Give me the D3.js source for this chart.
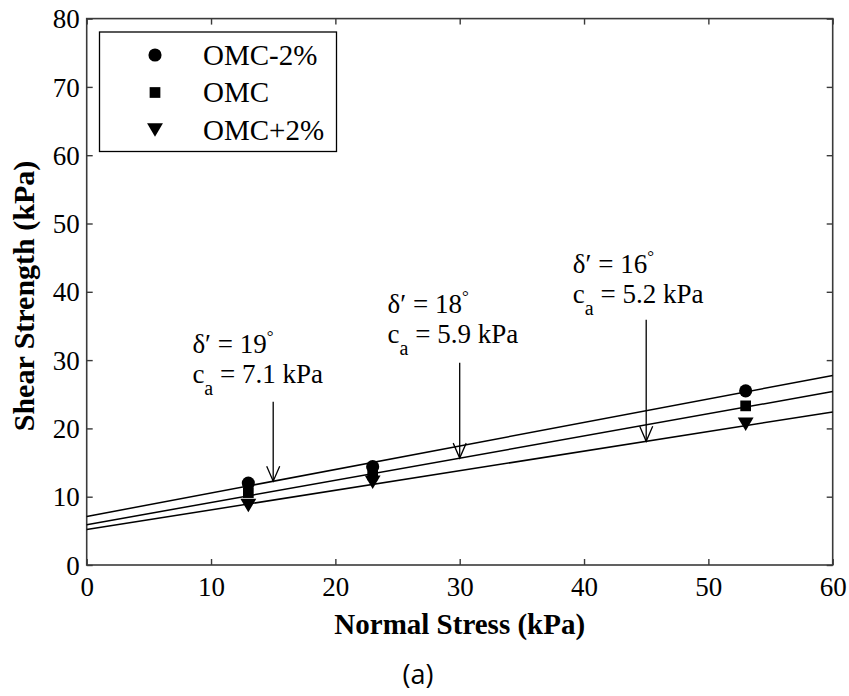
<!DOCTYPE html>
<html>
<head>
<meta charset="utf-8">
<script src="https://cdn.jsdelivr.net/npm/d3@7"></script>
<style>
  html, body { margin: 0; padding: 0; background: #fff; }
  svg { display: block; }
  text { font-family: "Liberation Serif", "Times New Roman", serif; fill: #000; }
</style>
</head>
<body>
<svg id="chart" width="849" height="696"></svg>
<script>
// Measured shear strength at each normal stress, per moisture condition
const normalStress = [13, 23, 53];
const seriesNames = ["OMC-2%", "OMC", "OMC+2%"];
const shearOmcMinus2 = [12.0, 14.4, 25.5];
const shearOmc = [10.6, 13.2, 23.3];
const shearOmcPlus2 = [8.7, 12.1, 20.6];

// Fitted interface parameters (friction angle in degrees, adhesion in kPa)
const frictionAngle = [19, 18, 16];
const adhesion = [7.1, 5.9, 5.2];

// Annotation arrows: normal stress where each arrow meets its fit line
const arrowStress = [15, 30, 45];

const xTicks = [0, 10, 20, 30, 40, 50, 60];
const yTicks = [0, 10, 20, 30, 40, 50, 60, 70, 80];

const svg = d3.select("#chart");
const x = d3.scaleLinear().domain([0, 60]).range([86.7, 832.7]);
const y = d3.scaleLinear().domain([0, 80]).range([565, 18.6]);

const axisColor = "#3a3a3a";
const tickLen = 6;

// Frame with inward ticks on all four sides
svg.append("rect")
  .attr("x", x(0)).attr("y", y(80))
  .attr("width", x(60) - x(0)).attr("height", y(0) - y(80))
  .attr("fill", "none").attr("stroke", axisColor).attr("stroke-width", 1.6);

const xAxis = svg.append("g").attr("transform", `translate(0,${y(0)})`)
  .call(d3.axisBottom(x).tickValues(xTicks).tickSize(-tickLen).tickPadding(14).tickFormat(d3.format("d")));
const xAxisTop = svg.append("g").attr("transform", `translate(0,${y(80)})`)
  .call(d3.axisTop(x).tickValues(xTicks).tickSize(-tickLen).tickFormat(""));
const yAxis = svg.append("g").attr("transform", `translate(${x(0)},0)`)
  .call(d3.axisLeft(y).tickValues(yTicks).tickSize(-tickLen).tickPadding(7).tickFormat(d3.format("d")));
const yAxisRight = svg.append("g").attr("transform", `translate(${x(60)},0)`)
  .call(d3.axisRight(y).tickValues(yTicks).tickSize(-tickLen).tickFormat(""));

[xAxis, xAxisTop, yAxis, yAxisRight].forEach(g => {
  g.select(".domain").remove();
  g.selectAll(".tick line").attr("stroke", axisColor).attr("stroke-width", 1.4);
  g.selectAll(".tick text")
    .attr("font-family", "Liberation Serif, serif")
    .attr("font-size", 27).attr("fill", "#000");
});
xAxis.selectAll(".tick text").attr("dy", "0.62em");
yAxis.selectAll(".tick text").attr("dy", "0.34em");

// Axis titles
svg.append("text")
  .attr("x", (x(0) + x(60)) / 2).attr("y", 634)
  .attr("text-anchor", "middle")
  .attr("font-weight", "bold").attr("font-size", 29)
  .text("Normal Stress (kPa)");

svg.append("text")
  .attr("transform", `translate(34,296) rotate(-90)`)
  .attr("text-anchor", "middle")
  .attr("font-weight", "bold").attr("font-size", 30)
  .text("Shear Strength (kPa)");

// Panel label
svg.append("text")
  .attr("x", 418).attr("y", 684)
  .attr("text-anchor", "middle")
  .style("font-family", "'Open Sans', 'Noto Sans', sans-serif")
  .attr("font-size", 27)
  .text("(a)");

// Fitted failure envelopes: tau = c_a + sigma * tan(delta)
const fitLine = d3.line().x(d => x(d[0])).y(d => y(d[1]));
frictionAngle.forEach((deg, i) => {
  const t = Math.tan(deg * Math.PI / 180);
  const pts = [0, 60].map(s => [s, adhesion[i] + s * t]);
  svg.append("path")
    .attr("d", fitLine(pts))
    .attr("fill", "none").attr("stroke", "#000").attr("stroke-width", 1.5);
});

// Markers
const downTriangle = {
  draw(ctx, size) {
    const w = Math.sqrt(size) * 1.15;
    const h = w * 0.85;
    ctx.moveTo(-w / 2, -h / 2);
    ctx.lineTo(w / 2, -h / 2);
    ctx.lineTo(0, h / 2);
    ctx.closePath();
  }
};
const symbols = [
  d3.symbol().type(d3.symbolCircle).size(135),
  d3.symbol().type(d3.symbolSquare).size(115),
  d3.symbol().type(downTriangle).size(190)
];
const seriesValues = [shearOmcMinus2, shearOmc, shearOmcPlus2];

// Draw bottom series first so the upper markers sit on top
[2, 1, 0].forEach(i => {
  svg.append("g").selectAll("path")
    .data(normalStress.map((s, j) => [s, seriesValues[i][j]]))
    .join("path")
    .attr("transform", d => `translate(${x(d[0])},${y(d[1])})`)
    .attr("d", symbols[i]())
    .attr("fill", "#000");
});

// Annotations with arrows (friction angle line, then adhesion line)
const arrowTail = [23.9, 29.6, 35.9];
const labelPos = [[8.5, 31.0], [24.2, 36.9], [39.1, 42.75]];
const lineGap = 30;
arrowStress.forEach((s, i) => {
  const t = Math.tan(frictionAngle[i] * Math.PI / 180);
  const tipVal = adhesion[i] + s * t;
  const ax = x(s), y0 = y(arrowTail[i]), y1 = y(tipVal);
  svg.append("line")
    .attr("x1", ax).attr("x2", ax).attr("y1", y0).attr("y2", y1)
    .attr("stroke", "#000").attr("stroke-width", 1.3);
  svg.append("path")
    .attr("d", `M${ax - 6.5},${y1 - 15} L${ax},${y1} L${ax + 6.5},${y1 - 15}`)
    .attr("fill", "none").attr("stroke", "#000").attr("stroke-width", 1.3);

  const lx = x(labelPos[i][0]), ly = y(labelPos[i][1]);
  const t1 = svg.append("text").attr("x", lx).attr("y", ly).attr("font-size", 27);
  t1.append("tspan").text(`δ′ = ${frictionAngle[i]}`);
  t1.append("tspan").attr("font-size", 17).attr("dy", -11).text("°");

  const t2 = svg.append("text").attr("x", lx).attr("y", ly + lineGap).attr("font-size", 27);
  t2.append("tspan").text("c");
  t2.append("tspan").attr("font-size", 20).attr("dy", 12).text("a");
  t2.append("tspan").attr("dy", -12).text(` = ${adhesion[i].toFixed(1)} kPa`);
});

// Legend
const legend = svg.append("g");
legend.append("rect")
  .attr("x", 99.5).attr("y", 32).attr("width", 237).attr("height", 119.5)
  .attr("fill", "#fff").attr("stroke", "#000").attr("stroke-width", 1.3);
seriesNames.forEach((name, i) => {
  const cy = 55 + i * 37.5;
  legend.append("path")
    .attr("transform", `translate(155,${cy})`)
    .attr("d", symbols[i]())
    .attr("fill", "#000");
  legend.append("text")
    .attr("x", 203).attr("y", cy + 9.5)
    .attr("font-size", 29)
    .text(name);
});
</script>
</body>
</html>
